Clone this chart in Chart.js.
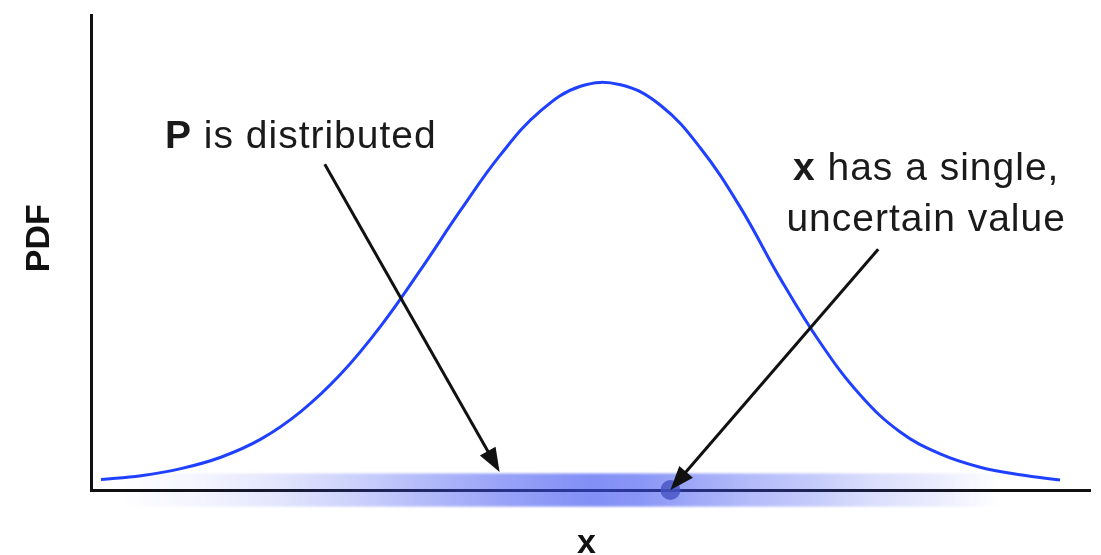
<!DOCTYPE html>
<html>
<head>
<meta charset="utf-8">
<script src="https://cdn.jsdelivr.net/npm/chart.js@4"></script>
<style>
html,body{margin:0;padding:0;background:#fff;}
#wrap{width:1101px;height:555px;}
</style>
</head>
<body>
<div id="wrap"><canvas id="pdf"></canvas></div>
<script>
// curve
const curveX = [0.1,0.5,0.9,1.3,1.7,2.1,2.5,2.9,3.3,3.7,4.1,4.5,4.9,5.3,5.7,6.1,6.5,6.9,7.3,7.7,8.1,8.5,8.9,9.3,9.7];
const curveY = [0.022,0.030,0.045,0.069,0.107,0.165,0.244,0.345,0.464,0.589,0.706,0.798,0.850,0.853,0.810,0.720,0.595,0.445,0.310,0.200,0.122,0.076,0.048,0.032,0.021];

// shaded band along the x axis (strength)
const bandX = [0.3,1.1,1.9,2.7,3.4,4.1,5.0,5.5,6.5,7.2,7.8,8.5,9.1];
const bandAlpha = [0,0.06,0.15,0.27,0.40,0.52,0.64,0.60,0.40,0.30,0.19,0.10,0];

// the single value of x
const markerX = [5.8];
const markerY = [0];

// notes
const noteLeft = {x:0.74, y:0.72, bold:"P", text:" is distributed"};
const noteRight = [
  {x:8.36, y:0.653, bold:"x", text:" has a single,"},
  {x:8.36, y:0.545, bold:"", text:"uncertain value"}
];
const arrowFrom = [[2.34,0.686],[7.88,0.507]];
const arrowTo = [[4.09,0.038],[5.80,0.0]];

const FONT = "'Liberation Sans', Arial, sans-serif";

const bandPlugin = {
  id:"band",
  beforeDatasetsDraw(c){
    const {ctx, scales:{x,y}} = c;
    const x0 = x.getPixelForValue(bandX[0]);
    const x1 = x.getPixelForValue(bandX[bandX.length-1]);
    const g = ctx.createLinearGradient(x0,0,x1,0);
    bandX.forEach((v,i)=>{
      g.addColorStop((v-bandX[0])/(bandX[bandX.length-1]-bandX[0]), "rgba(60,80,240,"+bandAlpha[i]+")");
    });
    const top = y.getPixelForValue(0.035);
    const bot = y.getPixelForValue(-0.035);
    ctx.save();
    ctx.filter = "blur(0.8px)";
    ctx.fillStyle = g;
    ctx.fillRect(x0, top, x1-x0, bot-top);
    ctx.restore();
  }
};

function mixedText(ctx, bold, text, px, py, align){
  ctx.font = "bold 39px " + FONT;
  const wb = bold ? ctx.measureText(bold).width : 0;
  ctx.font = "39px " + FONT;
  const wt = ctx.measureText(text).width;
  let sx = align === "center" ? px - (wb+wt)/2 : px;
  if(bold){
    ctx.font = "bold 39px " + FONT;
    ctx.fillText(bold, sx, py);
  }
  ctx.font = "39px " + FONT;
  ctx.fillText(text, sx+wb, py);
}

const notePlugin = {
  id:"notes",
  afterDatasetsDraw(c){
    const {ctx, scales:{x,y}, chartArea} = c;
    ctx.save();
    ctx.fillStyle = "#1a1a1a";
    ctx.textBaseline = "alphabetic";
    ctx.textAlign = "left";
    ctx.letterSpacing = "1px";
    mixedText(ctx, noteLeft.bold, noteLeft.text, x.getPixelForValue(noteLeft.x), y.getPixelForValue(noteLeft.y), "left");
    noteRight.forEach(n=>{
      mixedText(ctx, n.bold, n.text, x.getPixelForValue(n.x), y.getPixelForValue(n.y), "center");
    });

    // arrows
    ctx.strokeStyle = "#111";
    ctx.fillStyle = "#111";
    ctx.lineWidth = 3;
    arrowFrom.forEach((f,i)=>{
      const ax = x.getPixelForValue(f[0]), ay = y.getPixelForValue(f[1]);
      const bx = x.getPixelForValue(arrowTo[i][0]), by = y.getPixelForValue(arrowTo[i][1]);
      const ang = Math.atan2(by-ay, bx-ax);
      const len = 24, hw = 9;
      const cx = bx - Math.cos(ang)*len, cy = by - Math.sin(ang)*len;
      ctx.beginPath();
      ctx.moveTo(ax,ay);
      ctx.lineTo(cx+Math.cos(ang)*2, cy+Math.sin(ang)*2);
      ctx.stroke();
      ctx.beginPath();
      ctx.moveTo(bx,by);
      ctx.lineTo(cx - Math.sin(ang)*hw, cy + Math.cos(ang)*hw);
      ctx.lineTo(cx + Math.sin(ang)*hw, cy - Math.cos(ang)*hw);
      ctx.closePath();
      ctx.fill();
    });

    // axis labels
    ctx.letterSpacing = "0px";
    ctx.fillStyle = "#111";
    ctx.font = "bold 34px " + FONT;
    ctx.textAlign = "center";
    ctx.textBaseline = "middle";
    ctx.save();
    ctx.translate(40, chartArea.top + (chartArea.bottom-chartArea.top)*0.47);
    ctx.rotate(-Math.PI/2);
    ctx.fillText("PDF", 0, 0);
    ctx.restore();
    ctx.textBaseline = "alphabetic";
    ctx.fillText("x", (chartArea.left+chartArea.right)/2 - 4, 553);
    ctx.restore();
  }
};

new Chart(document.getElementById("pdf"),{
  type:"scatter",
  data:{
    datasets:[
      {
        data:markerX.map((v,i)=>({x:v,y:markerY[i]})),
        pointRadius:10,
        pointBackgroundColor:"rgba(70,82,195,0.8)",
        pointBorderWidth:0,
        clip:false,
        order:0
      },
      {
        data:curveX.map((v,i)=>({x:v,y:curveY[i]})),
        showLine:true,
        borderColor:"#2040ff",
        borderWidth:3,
        pointRadius:0,
        tension:0.4,
        order:1
      }
    ]
  },
  options:{
    responsive:true,
    maintainAspectRatio:false,
    animation:false,
    layout:{padding:{left:91,right:11,top:15,bottom:65}},
    plugins:{
      legend:{display:false},
      tooltip:{enabled:false}
    },
    scales:{
      x:{
        type:"linear",
        min:0,max:10,
        ticks:{display:false},
        grid:{display:false,drawTicks:false},
        border:{display:true,color:"#111",width:3}
      },
      y:{
        min:0,max:1,
        ticks:{display:false},
        grid:{display:false,drawTicks:false},
        border:{display:true,color:"#111",width:3}
      }
    }
  },
  plugins:[bandPlugin,notePlugin]
});
</script>
</body>
</html>
